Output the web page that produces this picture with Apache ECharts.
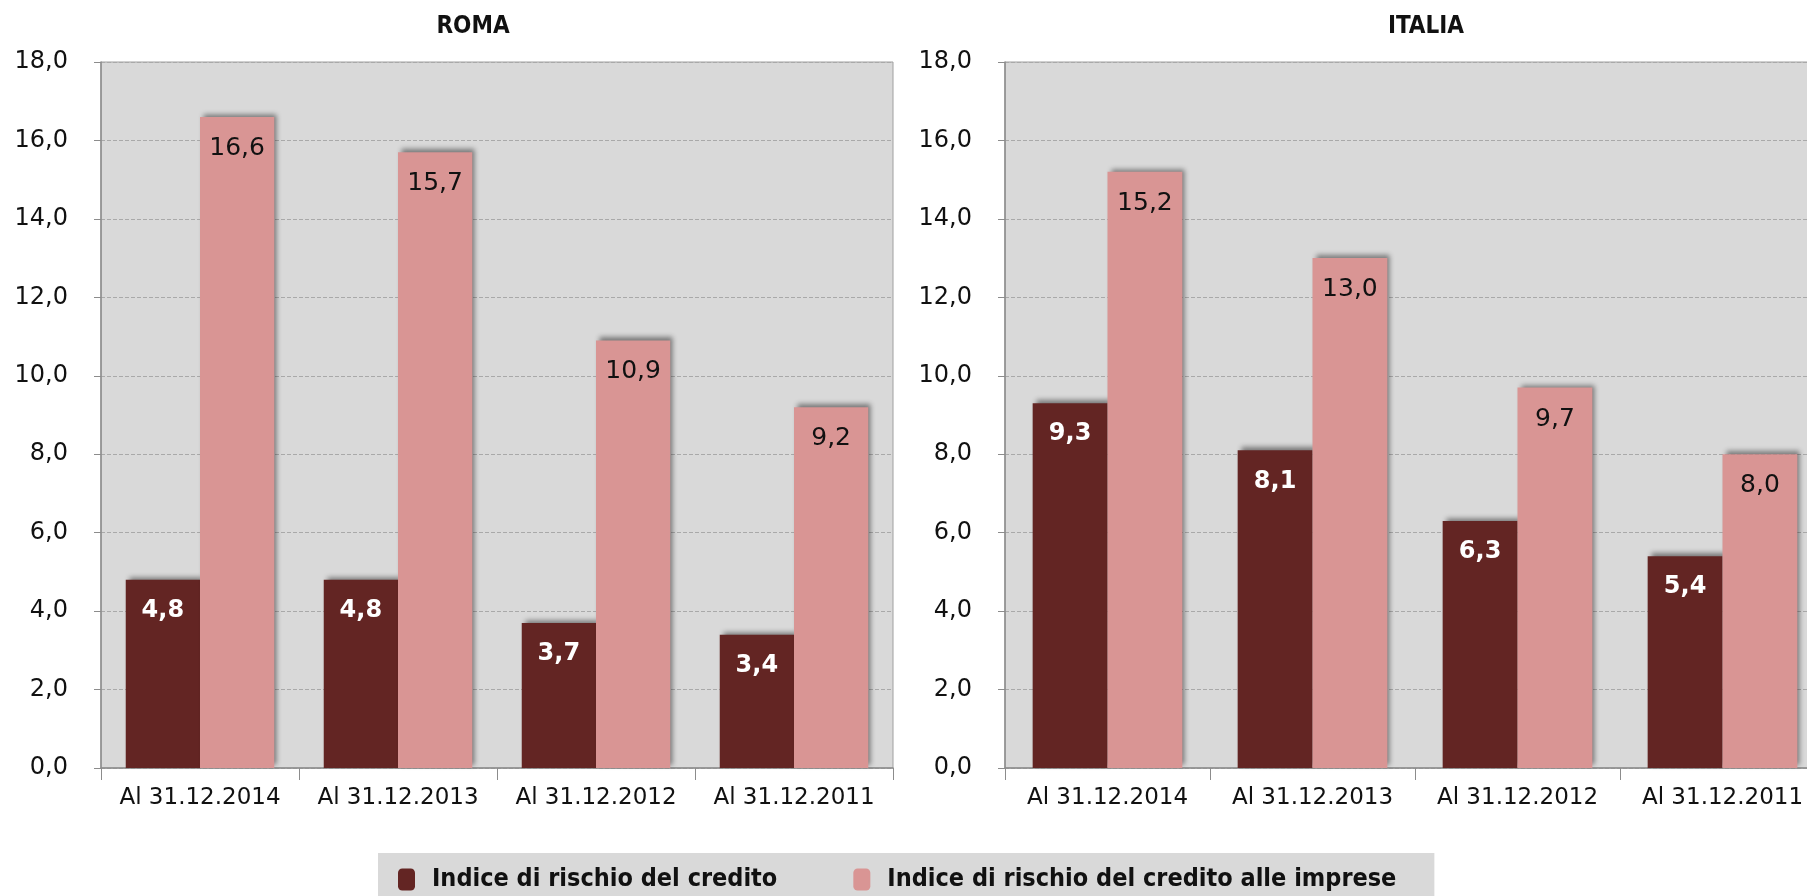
<!DOCTYPE html>
<html>
<head>
<meta charset="utf-8">
<title>Indice di rischio del credito - Roma / Italia</title>
<script src="https://cdn.jsdelivr.net/npm/echarts@6/dist/echarts.min.js"></script>
<style>
    html, body { margin: 0; padding: 0; background: #fff; }
    #main { width: 1807px; height: 896px; }
</style>
</head>
<body>
<div id="main"></div>
<script>
var categories = ['Al 31.12.2014', 'Al 31.12.2013', 'Al 31.12.2012', 'Al 31.12.2011'];
var seriesNames = ['Indice di rischio del credito', 'Indice di rischio del credito alle imprese'];
var romaCredito = [4.8, 4.8, 3.7, 3.4];
var romaImprese = [16.6, 15.7, 10.9, 9.2];
var italiaCredito = [9.3, 8.1, 6.3, 5.4];
var italiaImprese = [15.2, 13.0, 9.7, 8.0];
var panelTitles = ['ROMA', 'ITALIA'];

var FONT = '"DejaVu Sans", sans-serif';
var FONT_COND = '"DejaVu Sans Condensed", "DejaVu Sans", sans-serif';
var DARK = '#632523';
var PINK = '#d99594';

var chart = echarts.init(document.getElementById('main'));

function fmt(v) {
    return v.toFixed(1).replace('.', ',');
}

function xAxisFor(idx) {
    return {
        type: 'category',
        gridIndex: idx,
        data: categories,
        axisLine: { lineStyle: { color: '#8c8c8c', width: 1.5 } },
        axisTick: { show: true, length: 12, lineStyle: { color: '#8c8c8c' } },
        axisLabel: { interval: 0, color: '#111', fontFamily: FONT, fontSize: 23, margin: 19 }
    };
}

function yAxisFor(idx) {
    return {
        type: 'value',
        gridIndex: idx,
        min: 0,
        max: 18,
        interval: 2,
        axisLine: { show: true, lineStyle: { color: '#8c8c8c', width: 1.5 } },
        axisTick: { show: true, length: 7, lineStyle: { color: '#8c8c8c' } },
        axisLabel: {
            color: '#111', fontFamily: FONT, fontSize: 24, margin: 33,
            formatter: function (v) { return fmt(v); }
        },
        splitLine: { lineStyle: { color: '#a9a9a9', type: 'dashed', width: 1 } }
    };
}

function barSeries(name, data, idx, color, labelColor, weight, size) {
    return {
        name: name,
        type: 'bar',
        xAxisIndex: idx,
        yAxisIndex: idx,
        data: data,
        barGap: '0%',
        barCategoryGap: idx === 0 ? '25%' : '27%',
        itemStyle: {
            color: color,
            shadowColor: 'rgba(0,0,0,0.45)',
            shadowBlur: 5,
            shadowOffsetX: 3,
            shadowOffsetY: -3
        },
        label: {
            show: true,
            position: 'insideTop',
            distance: 19,
            color: labelColor,
            fontFamily: FONT,
            fontSize: size,
            fontWeight: weight,
            formatter: function (p) { return fmt(p.value); }
        }
    };
}

var option = {
    backgroundColor: '#ffffff',
    animation: false,
    title: [
        { text: panelTitles[0], left: 468, top: 10, textAlign: 'center',
          textStyle: { fontFamily: FONT_COND, fontSize: 24, fontWeight: 'bold', color: '#111' } },
        { text: panelTitles[1], left: 1421, top: 10, textAlign: 'center',
          textStyle: { fontFamily: FONT_COND, fontSize: 24, fontWeight: 'bold', color: '#111' } }
    ],
    legend: {
        data: seriesNames,
        left: 378,
        top: 853,
        itemWidth: 17,
        itemHeight: 22,
        itemGap: 76,
        padding: [14, 38, 30, 20],
        backgroundColor: '#d9d9d9',
        icon: 'roundRect',
        textStyle: { fontFamily: FONT_COND, fontSize: 25, fontWeight: 'bold', color: '#111',
                     padding: [0, 0, 0, 12] }
    },
    grid: [
        { left: 101, top: 62, width: 792, bottom: 128, show: true, outerBoundsMode: 'none',
          backgroundColor: '#d9d9d9', borderColor: '#a0a0a0', borderWidth: 1 },
        { left: 1005, top: 62, width: 820, bottom: 128, show: true, outerBoundsMode: 'none',
          backgroundColor: '#d9d9d9', borderColor: '#a0a0a0', borderWidth: 1 }
    ],
    xAxis: [xAxisFor(0), xAxisFor(1)],
    yAxis: [yAxisFor(0), yAxisFor(1)],
    series: [
        barSeries(seriesNames[0], romaCredito, 0, DARK, '#ffffff', 'bold', 24),
        barSeries(seriesNames[1], romaImprese, 0, PINK, '#111111', 'normal', 25),
        barSeries(seriesNames[0], italiaCredito, 1, DARK, '#ffffff', 'bold', 24),
        barSeries(seriesNames[1], italiaImprese, 1, PINK, '#111111', 'normal', 25)
    ]
};

chart.setOption(option);
</script>
</body>
</html>
